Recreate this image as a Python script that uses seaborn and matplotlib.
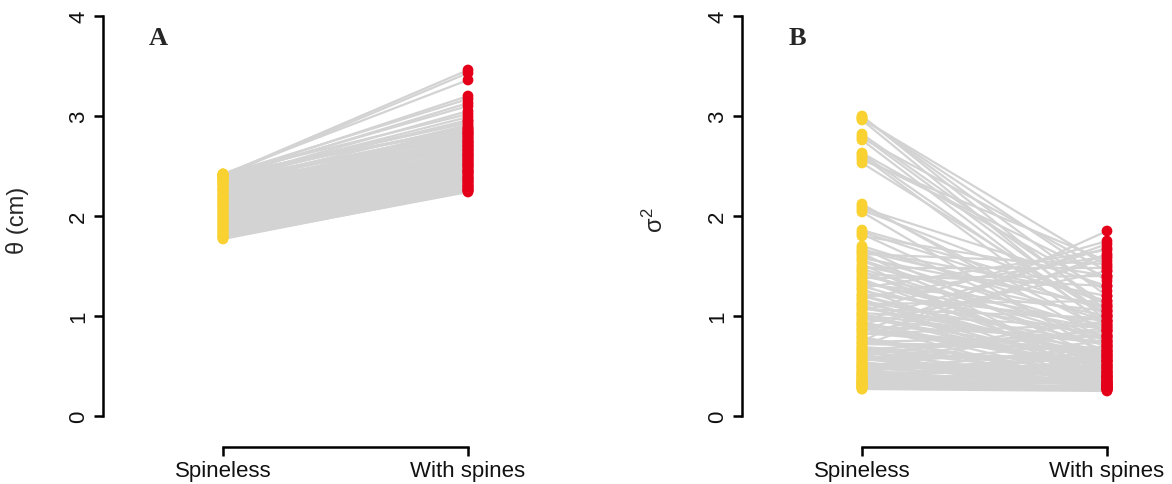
import numpy as np
import pandas as pd
import matplotlib
matplotlib.use("Agg")
import matplotlib.pyplot as plt
import seaborn as sns

sns.set_style("white")
plt.rcParams["font.family"] = ["Liberation Sans", "DejaVu Sans"]
plt.rcParams["mathtext.fontset"] = "custom"
plt.rcParams["mathtext.rm"] = "Liberation Sans"
plt.rcParams["mathtext.it"] = "Liberation Sans"

groups = ["Spineless", "With spines"]

# Panel A: theta (cm) per lineage, without and with spines
theta_spineless = [2.41, 2.40, 2.42, 2.39, 2.41, 2.38, 2.40, 2.36, 2.42, 2.37,
                   2.35, 2.40, 2.33, 2.39, 2.31, 2.42, 2.28, 2.36, 2.26, 2.34,
                   2.24, 2.30, 2.22, 2.38, 2.20, 2.27, 2.19, 2.33, 2.17, 2.25,
                   2.15, 2.29, 2.14, 2.21, 2.12, 2.35, 2.11, 2.18, 2.09, 2.23,
                   2.08, 2.16, 2.06, 2.13, 2.05, 2.31, 2.03, 2.10, 2.02, 2.07,
                   2.00, 2.26, 1.99, 2.04, 1.97, 2.01, 1.96, 2.20, 1.94, 1.98,
                   1.93, 1.95, 1.91, 2.14, 1.90, 1.92, 1.88, 1.89, 1.87, 2.09,
                   1.86, 1.85, 1.84, 1.83, 1.82, 1.81, 1.80, 1.79, 1.78, 1.77,
                   2.42, 2.40, 1.78, 1.80, 2.41, 2.39, 2.32, 2.18, 2.05, 1.95,
                   1.84, 2.27, 2.12, 1.99, 1.88, 2.37]
theta_spines = [3.46, 3.43, 3.36, 3.20, 3.17, 3.13, 3.10, 3.05, 3.02, 2.99,
                2.96, 2.93, 2.91, 2.89, 2.87, 2.86, 2.85, 2.84, 2.83, 2.82,
                2.81, 2.80, 2.79, 2.78, 2.77, 2.76, 2.75, 2.74, 2.73, 2.72,
                2.71, 2.70, 2.69, 2.68, 2.67, 2.66, 2.65, 2.64, 2.63, 2.62,
                2.61, 2.60, 2.59, 2.58, 2.57, 2.56, 2.55, 2.54, 2.53, 2.52,
                2.51, 2.50, 2.49, 2.48, 2.47, 2.46, 2.45, 2.44, 2.43, 2.42,
                2.41, 2.40, 2.39, 2.38, 2.37, 2.36, 2.35, 2.34, 2.33, 2.32,
                2.31, 2.30, 2.29, 2.28, 2.27, 2.27, 2.26, 2.25, 2.24, 2.25,
                2.45, 2.30, 2.60, 2.70, 2.88, 2.95, 2.52, 2.74, 2.38, 2.62,
                2.44, 2.83, 2.56, 2.35, 2.50, 2.66]

# Panel B: sigma^2 per lineage, without and with spines
sigma_spineless = [3.00, 2.98, 2.96, 2.82, 2.78, 2.76, 2.63, 2.60, 2.56, 2.53,
                   2.12, 2.08, 2.04, 1.86, 1.82, 1.80,
                   1.70, 1.68, 1.66, 1.63, 1.60, 1.58, 1.55, 1.52, 1.50, 1.47,
                   1.45, 1.42, 1.40, 1.37, 1.35, 1.32, 1.30, 1.27, 1.25, 1.22,
                   1.20, 1.17, 1.15, 1.12, 1.10, 1.08, 1.05, 1.03, 1.00, 0.98,
                   0.95, 0.93, 0.90, 0.88, 0.85, 0.83, 0.80, 0.78, 0.75, 0.73,
                   0.70, 0.68, 0.66, 0.64, 0.62, 0.60, 0.58, 0.56, 0.54, 0.52,
                   0.50, 0.48, 0.47, 0.45, 0.44, 0.42, 0.41, 0.40, 0.38, 0.37,
                   0.36, 0.35, 0.34, 0.33, 0.32, 0.31, 0.30, 0.29, 0.28, 0.27,
                   0.27, 0.28, 0.30, 0.32, 0.35, 0.39, 0.43, 0.50, 0.57, 0.65,
                   1.48, 1.62, 1.38, 0.92, 1.18, 1.28,
                   2.99, 2.80, 2.58, 2.10, 1.84, 2.97, 2.62, 2.06,
                   0.29, 0.31, 0.33, 0.36, 0.40, 0.44, 0.49, 0.53, 0.59, 0.63,
                   0.67, 0.72, 0.77, 0.82, 0.87, 0.91, 0.97, 1.02, 1.07, 1.13,
                   0.30, 0.34, 0.38, 0.42, 0.46, 0.51, 0.55, 0.61, 0.69, 0.74,
                   0.79, 0.86, 0.94, 1.01, 1.11, 1.21, 1.33, 1.44, 1.56, 1.65]
sigma_spines = [1.05, 1.35, 0.95, 1.10, 1.45, 0.90, 1.25, 0.80, 1.55, 1.00,
                0.75, 1.30, 0.60, 1.15, 0.70, 1.40,
                0.95, 0.55, 1.20, 0.40, 0.85, 1.10, 0.65, 0.35, 1.00, 0.75,
                0.50, 1.30, 0.90, 0.45, 0.70, 1.05, 0.60, 0.38, 0.80, 0.95,
                0.55, 0.30, 0.72, 1.15, 0.48, 0.65, 1.75, 0.88, 0.42, 0.58,
                1.68, 0.35, 0.78, 0.52, 1.72, 0.62, 1.58, 0.40, 1.85, 0.68,
                1.62, 0.45, 0.85, 0.33, 0.55, 0.95, 0.38, 0.62, 0.28, 0.48,
                0.75, 0.35, 0.58, 0.30, 0.42, 1.02, 0.36, 0.50, 0.27, 0.65,
                0.32, 0.44, 0.26, 0.38, 0.55, 0.29, 0.34, 0.27, 0.41, 0.25,
                0.31, 0.30, 0.26, 0.28, 0.29, 0.31, 0.33, 0.30, 0.32, 0.29,
                1.48, 1.52, 1.40, 1.45, 1.60, 1.66,
                1.20, 1.00, 1.38, 0.85, 1.05, 1.50, 0.92, 1.12,
                0.40, 0.52, 0.28, 0.62, 0.35, 0.70, 0.45, 0.31, 0.58, 0.82,
                0.39, 0.66, 0.30, 0.92, 0.50, 0.27, 0.74, 0.44, 0.98, 0.60,
                0.47, 0.26, 0.56, 0.33, 0.68, 0.39, 0.88, 0.29, 0.52, 0.80,
                0.34, 0.64, 0.43, 0.72, 0.37, 0.55, 0.86, 0.48, 0.78, 1.08]

panels = [
    ("A", r"θ (cm)", theta_spineless, theta_spines),
    ("B", r"$\sigma^2$", sigma_spineless, sigma_spines),
]

YELLOW = "#F9D232"
RED = "#E5001A"
GREY = "#D3D3D3"

W, H = 1172, 485
fig = plt.figure(figsize=(W / 100, H / 100), dpi=100)

ax_left_px = [103, 742]
ax_w_px = 400
ax_bottom_px = 448
ax_top_px = 10


def long_table(before, after):
    n = len(before)
    return pd.DataFrame({
        "pair": list(range(n)) * 2,
        "group": [groups[0]] * n + [groups[1]] * n,
        "pos": [0] * n + [1] * n,
        "value": list(before) + list(after),
    })


for (letter, ylabel, before, after), lpx in zip(panels, ax_left_px):
    ax = fig.add_axes([lpx / W, (H - ax_bottom_px) / H, ax_w_px / W,
                       (ax_bottom_px - ax_top_px) / H])
    df = long_table(before, after)

    sns.lineplot(data=df, x="pos", y="value", units="pair", estimator=None,
                 sort=False, color=GREY, lw=1.6, ax=ax, legend=False)
    sns.scatterplot(data=df, x="pos", y="value", hue="group",
                    palette={groups[0]: YELLOW, groups[1]: RED},
                    s=60, linewidth=0, ax=ax, legend=False, zorder=3)

    ax.set_xlim(-120 / 245, 280 / 245)
    ax.set_ylim(-0.31, 4.07)
    ax.set_xticks([0, 1])
    ax.set_xticklabels(groups, fontsize=16)
    ax.set_yticks([0, 1, 2, 3, 4])
    ax.set_yticklabels(["0", "1", "2", "3", "4"], fontsize=16, rotation=90,
                       va="center")
    ax.set_xlabel("")
    ax.set_ylabel(ylabel, fontsize=17)
    ax.yaxis.set_label_coords(-0.186, 0.52)

    for side in ("top", "right"):
        ax.spines[side].set_visible(False)
    ax.spines["left"].set_bounds(0, 4)
    ax.spines["bottom"].set_bounds(0, 1)
    for side in ("left", "bottom"):
        ax.spines[side].set_linewidth(1.8)
        ax.spines[side].set_color("black")
    ax.tick_params(axis="both", which="major", direction="out", length=6.5,
                   width=1.8, color="black", labelcolor="#111111",
                   bottom=True, left=True)
    ax.tick_params(axis="y", pad=3.5)
    ax.tick_params(axis="x", pad=3)
    ax.set_facecolor("white")

    ax.text(55 / ax_w_px, (ax_bottom_px - 39) / (ax_bottom_px - ax_top_px),
            letter, transform=ax.transAxes, ha="center", va="center",
            fontsize=19, fontweight="bold", family="Liberation Serif")

fig.savefig("out.png", dpi=100, facecolor="white")
